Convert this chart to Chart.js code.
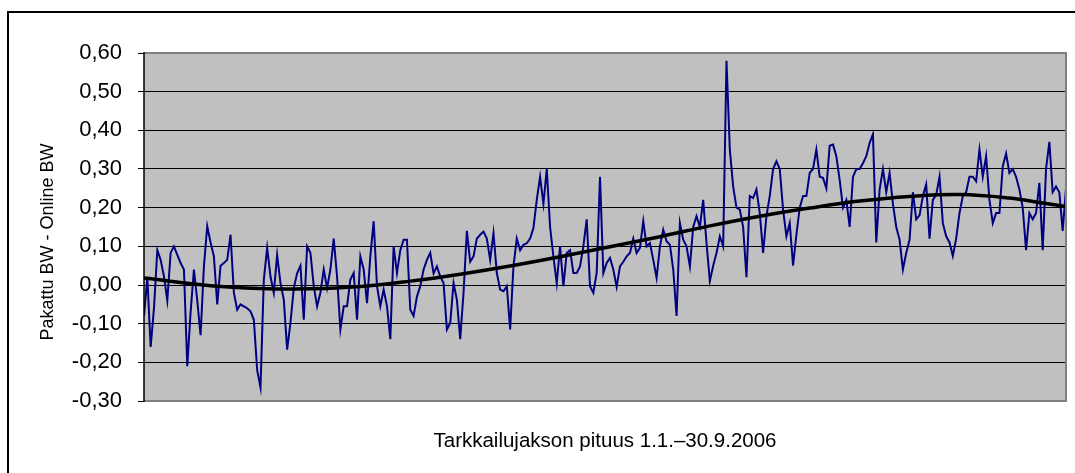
<!DOCTYPE html>
<html>
<head>
<meta charset="utf-8">
<script src="https://cdn.jsdelivr.net/npm/chart.js@4/dist/chart.umd.min.js"></script>
<style>
    html, body { margin: 0; padding: 0; background: #fff; }
</style>
</head>
<body>
<canvas id="bwChart" width="1075" height="473"></canvas>
<script>
// Pakattu BW - Online BW in six stretches (Jan -> Sep)
const diffPart1 = [-0.08, 0.02, -0.16, -0.06, 0.09, 0.065, 0.022, -0.04, 0.083, 0.10,
    0.078, 0.057, 0.04, -0.21, -0.07, 0.04, -0.04, -0.13, 0.048, 0.152,
    0.11, 0.074, -0.05, 0.05, 0.057, 0.065, 0.13, -0.02, -0.064, -0.05,
    -0.055, -0.06, -0.068, -0.09, -0.22, -0.265, 0.014, 0.096, 0.022, -0.02,
    0.078, 0.005, -0.038, -0.167, -0.098, -0.008, 0.03];
const diffPart2 = [0.05, -0.09, 0.10, 0.083, -0.003, -0.055, -0.02, 0.04, -0.008, 0.04,
    0.12, 0.022, -0.115, -0.055, -0.055, 0.014, 0.031, -0.09, 0.074, 0.04,
    -0.047, 0.074, 0.165, -0.003, -0.055, -0.012, -0.055, -0.14, 0.1, 0.031,
    0.09, 0.117, 0.117, -0.064, -0.08, -0.03, -0.003, 0.04, 0.065, 0.083,
    0.03, 0.048, 0.022, 0.005, -0.115, -0.098, 0.005];
const diffPart3 = [-0.038, -0.14, -0.02, 0.14, 0.06, 0.074, 0.12, 0.13, 0.138, 0.12,
    0.065, 0.134, 0.031, -0.012, -0.016, -0.003, -0.115, 0.048, 0.12, 0.09,
    0.104, 0.108, 0.12, 0.147, 0.22, 0.28, 0.21, 0.30, 0.15, 0.074,
    0.005, 0.1, -0.003, 0.083, 0.09, 0.031, 0.031, 0.048, 0.1, 0.17,
    -0.003, -0.02, 0.031, 0.28, 0.031, 0.057];
const diffPart4 = [0.07, 0.04, -0.005, 0.048, 0.06, 0.074, 0.083, 0.12, 0.083, 0.096,
    0.165, 0.1, 0.108, 0.065, 0.018, 0.1, 0.143, 0.113, 0.104, 0.04,
    -0.08, 0.16, 0.117, 0.1, 0.048, 0.15, 0.178, 0.15, 0.22, 0.108,
    0.01, 0.05, 0.083, 0.126, 0.1, 0.58, 0.35, 0.255, 0.2, 0.195,
    0.15, 0.02, 0.23, 0.225, 0.247, 0.186, 0.083];
const diffPart5 = [0.178, 0.23, 0.30, 0.32, 0.30, 0.195, 0.126, 0.16, 0.05, 0.13,
    0.2, 0.23, 0.23, 0.29, 0.3, 0.35, 0.28, 0.277, 0.25, 0.36,
    0.363, 0.333, 0.272, 0.2, 0.22, 0.15, 0.28, 0.3, 0.3, 0.315,
    0.333, 0.367, 0.39, 0.11, 0.247, 0.3, 0.24, 0.29, 0.21, 0.15,
    0.117, 0.04, 0.083, 0.117, 0.24, 0.17];
const diffPart6 = [0.18, 0.23, 0.26, 0.12, 0.22, 0.233, 0.28, 0.16, 0.126, 0.11,
    0.075, 0.12, 0.186, 0.23, 0.24, 0.28, 0.28, 0.268, 0.35, 0.28,
    0.333, 0.22, 0.16, 0.186, 0.186, 0.307, 0.34, 0.29, 0.3, 0.28,
    0.247, 0.2, 0.09, 0.186, 0.17, 0.186, 0.264, 0.09, 0.30, 0.37,
    0.24, 0.255, 0.24, 0.14, 0.25];

// trend line (polynomial in the original), read at a few sample positions
const trendPos = [0, 20, 35, 50, 65, 80, 95, 110, 125, 140, 155, 170, 185, 200, 215, 230, 245, 260, 270, 277];
const trendValues = [0.018, -0.002, -0.009, -0.01, -0.004, 0.01, 0.028, 0.049, 0.073, 0.099,
    0.125, 0.153, 0.178, 0.199, 0.217, 0.229, 0.234, 0.225, 0.212, 0.203];

const yTickValues = [-0.3, -0.2, -0.1, 0, 0.1, 0.2, 0.3, 0.4, 0.5, 0.6];
const xTitle = 'Tarkkailujakson pituus 1.1.\u201330.9.2006';
const yTitle = 'Pakattu BW - Online BW';

const diffValues = [].concat(diffPart1, diffPart2, diffPart3, diffPart4, diffPart5, diffPart6);
const FONT = '"Liberation Sans", Arial, sans-serif';

const excelFrame = {
    id: 'excelFrame',
    beforeDraw(chart) {
        const { ctx, chartArea: a } = chart;
        ctx.save();
        ctx.fillStyle = '#fff';
        ctx.fillRect(0, 0, chart.width, chart.height);
        ctx.fillStyle = '#c0c0c0';
        ctx.fillRect(a.left, a.top, a.right - a.left, a.bottom - a.top);
        ctx.restore();
    },
    afterDraw(chart) {
        const { ctx, chartArea: a } = chart;
        ctx.save();
        // plot area frame (grey top/right/bottom, dark axis on the left)
        ctx.strokeStyle = '#808080';
        ctx.lineWidth = 2;
        ctx.beginPath();
        ctx.moveTo(a.left, a.top);
        ctx.lineTo(a.right, a.top);
        ctx.lineTo(a.right, a.bottom);
        ctx.lineTo(a.left, a.bottom);
        ctx.stroke();
        ctx.strokeStyle = '#000';
        ctx.lineWidth = 1.5;
        ctx.beginPath();
        ctx.moveTo(a.left, a.top - 1);
        ctx.lineTo(a.left, a.bottom + 1);
        ctx.stroke();

        // outer chart border
        ctx.lineWidth = 2;
        ctx.strokeRect(8, 12, 1200, 600);

        // titles
        ctx.fillStyle = '#000';
        ctx.textAlign = 'center';
        ctx.textBaseline = 'alphabetic';
        ctx.font = '20.5px ' + FONT;
        ctx.fillText(xTitle, (a.left + a.right) / 2, 446.5);
        ctx.translate(53, 242);
        ctx.rotate(-Math.PI / 2);
        ctx.font = '18px ' + FONT;
        ctx.fillText(yTitle, 0, 0);
        ctx.restore();
    }
};

const ctx = document.getElementById('bwChart').getContext('2d');
new Chart(ctx, {
    type: 'line',
    data: {
        datasets: [
            {
                label: 'Trendi',
                data: trendPos.map((x, i) => ({ x: x, y: trendValues[i] })),
                borderColor: '#000',
                borderWidth: 3.5,
                pointRadius: 0,
                tension: 0.4,
                fill: false
            },
            {
                label: yTitle,
                data: diffValues.map((v, i) => ({ x: i, y: v })),
                borderColor: '#000080',
                borderWidth: 2,
                pointRadius: 0,
                tension: 0,
                fill: false
            }
        ]
    },
    options: {
        responsive: false,
        animation: false,
        events: [],
        layout: { padding: { left: 0, top: 53, right: 9, bottom: 72 } },
        plugins: {
            legend: { display: false },
            tooltip: { enabled: false }
        },
        scales: {
            x: {
                type: 'linear',
                display: false,
                min: 0,
                max: diffValues.length - 1
            },
            y: {
                min: -0.3,
                max: 0.6,
                afterFit: scale => { scale.width = 144; },
                afterBuildTicks: scale => { scale.ticks = yTickValues.map(v => ({ value: v })); },
                ticks: {
                    color: '#000',
                    padding: 16,
                    font: { family: FONT, size: 22 },
                    callback: v => v.toFixed(2).replace('.', ',')
                },
                grid: { color: '#000', lineWidth: 1, tickLength: 6, tickColor: '#000' },
                border: { display: false }
            }
        }
    },
    plugins: [excelFrame]
});
</script>
</body>
</html>
